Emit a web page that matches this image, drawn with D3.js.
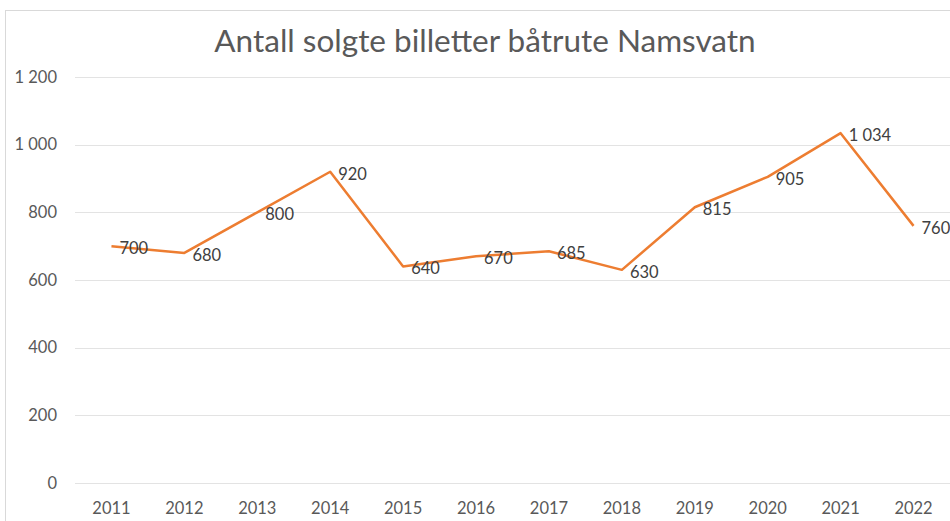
<!DOCTYPE html>
<html>
<head>
<meta charset="utf-8">
<script src="https://cdn.jsdelivr.net/npm/d3@7"></script>
<style>
  body { margin: 0; background: #fff; }
  text { font-family: Lato, "Open Sans", sans-serif; }
</style>
</head>
<body>
<svg id="chart" width="950" height="521"></svg>
<script>
var years = ['2011', '2012', '2013', '2014', '2015', '2016', '2017', '2018', '2019', '2020', '2021', '2022'];
var tickets = [700, 680, 800, 920, 640, 670, 685, 630, 815, 905, 1034, 760];
var yTicks = [0, 200, 400, 600, 800, 1000, 1200];
var title = 'Antall solgte billetter båtrute Namsvatn';

var width = 950,
  height = 521,
  margin = { top: 77, right: 0, bottom: 38, left: 75 };

var svg = d3.select('#chart');
var fmt = d3.formatLocale({ decimal: ',', thousands: '\u00a0', grouping: [3], currency: ['', ' kr'] }).format(',d');

// chart frame
svg.append('rect')
  .attr('x', 5.5).attr('y', 10.5)
  .attr('width', width + 10).attr('height', height + 10)
  .attr('fill', '#fff').attr('stroke', '#d9d9d9');

var xScale = d3.scaleBand().domain(years).range([margin.left, width - margin.right]);
var yScale = d3.scaleLinear().domain([0, 1200]).range([height - margin.bottom, margin.top]);

// gridlines
svg.append('g')
  .selectAll('line')
  .data(yTicks)
  .join('line')
  .attr('x1', margin.left).attr('x2', width)
  .attr('y1', function(d) { return Math.round(yScale(d)) + 0.5; })
  .attr('y2', function(d) { return Math.round(yScale(d)) + 0.5; })
  .attr('stroke', '#e3e3e3').attr('stroke-width', 1);

// y labels
svg.append('g')
  .selectAll('text')
  .data(yTicks)
  .join('text')
  .attr('x', 57)
  .attr('y', function(d) { return yScale(d); })
  .attr('dy', '0.35em')
  .attr('text-anchor', 'end')
  .attr('fill', '#595959')
  .attr('font-size', 16.5)
  .text(function(d) { return fmt(d); });

// x labels
svg.append('g')
  .selectAll('text')
  .data(years)
  .join('text')
  .attr('x', function(d) { return xScale(d) + xScale.bandwidth() / 2; })
  .attr('y', 514)
  .attr('text-anchor', 'middle')
  .attr('fill', '#595959')
  .attr('font-size', 16.5)
  .text(function(d) { return d; });

// line
var data = years.map(function(y, i) { return [y, tickets[i]]; });
var line = d3.line()
  .x(function(d) { return xScale(d[0]) + xScale.bandwidth() / 2; })
  .y(function(d) { return yScale(d[1]); });

svg.append('path')
  .datum(data)
  .attr('d', line)
  .attr('fill', 'none')
  .attr('stroke', '#ed7d31')
  .attr('stroke-width', 2.5)
  .attr('stroke-linejoin', 'round');

// data labels
svg.append('g')
  .selectAll('text')
  .data(data)
  .join('text')
  .attr('x', function(d) { return xScale(d[0]) + xScale.bandwidth() / 2 + 8; })
  .attr('y', function(d) { return yScale(d[1]) + 2; })
  .attr('dy', '0.35em')
  .attr('fill', '#404040')
  .attr('font-size', 16.5)
  .text(function(d) { return fmt(d[1]); });

// title
svg.append('text')
  .attr('x', 485)
  .attr('y', 52)
  .attr('text-anchor', 'middle')
  .attr('fill', '#595959')
  .attr('font-size', 31.5)
  .text(title);
</script>
</body>
</html>
